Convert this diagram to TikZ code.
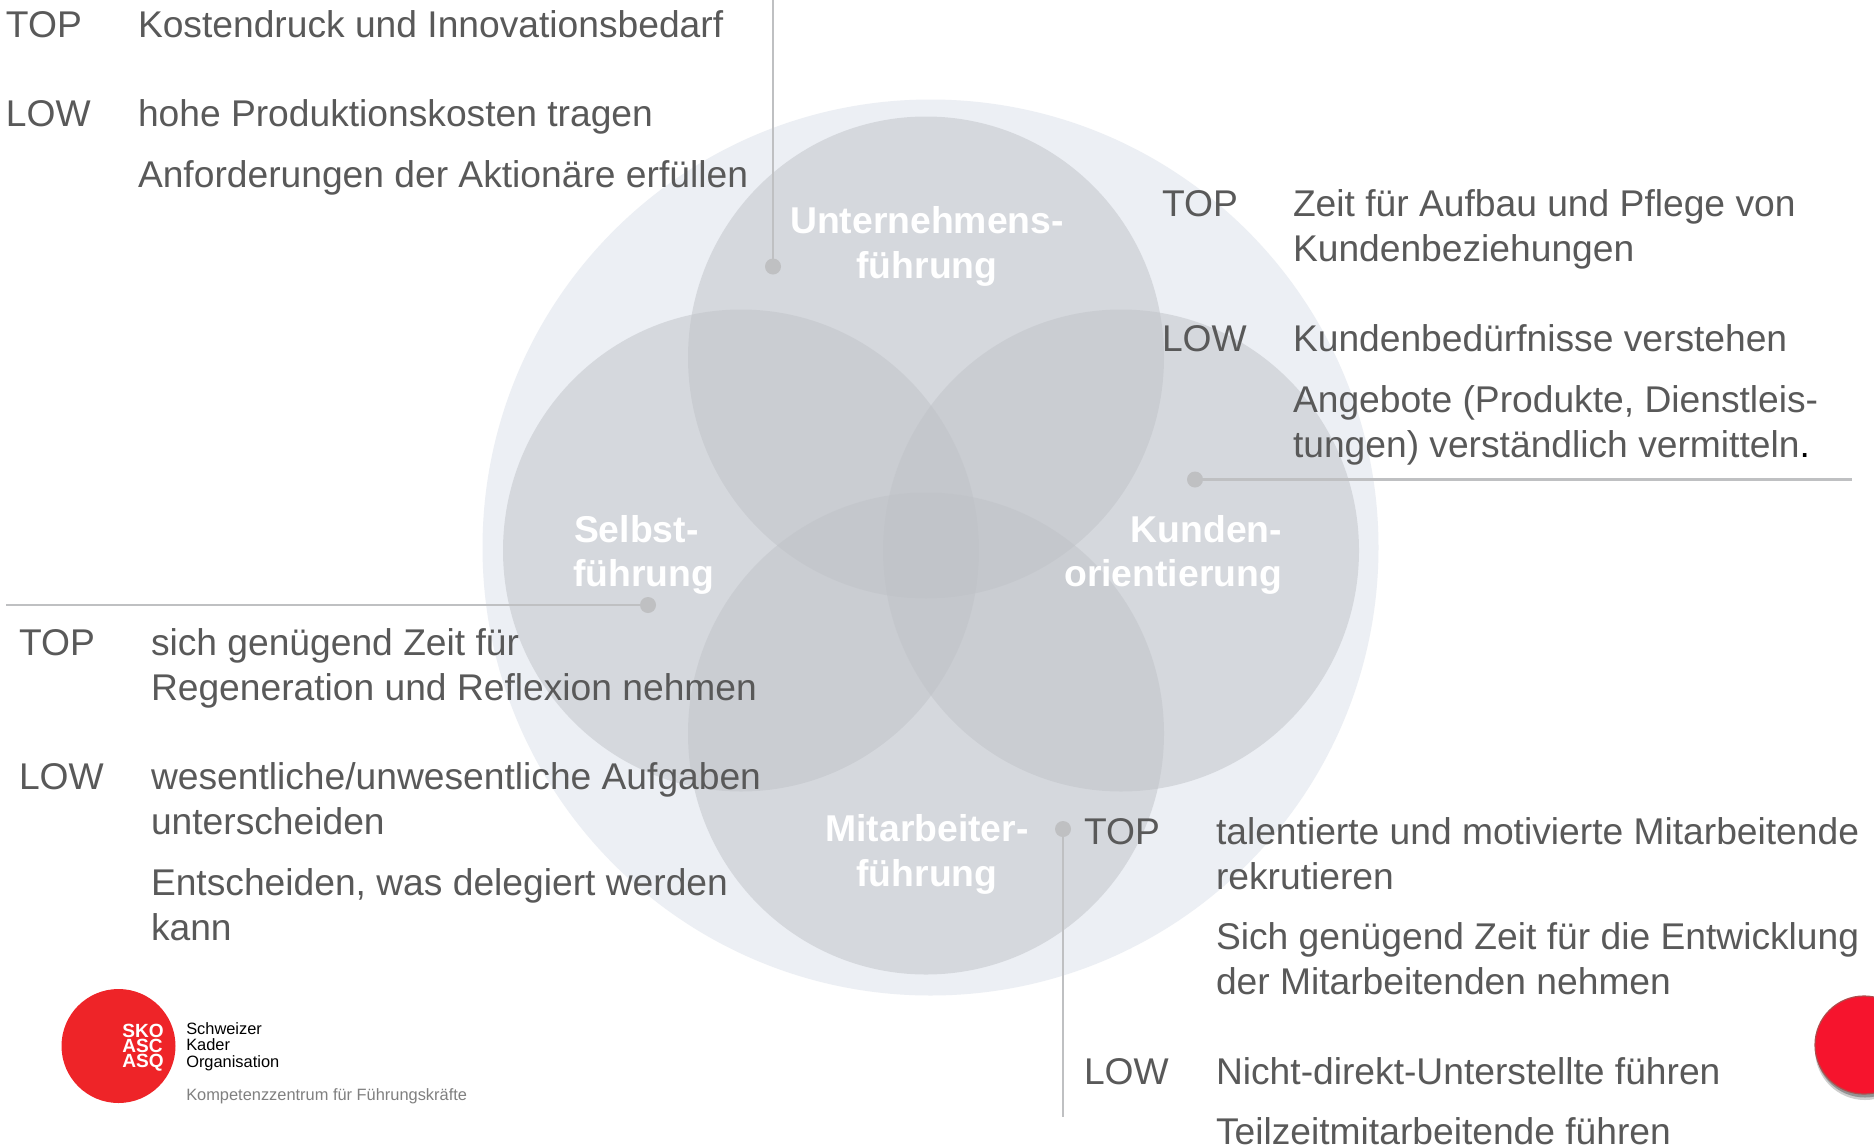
\documentclass[tikz,border=0pt]{standalone}
\usepackage{fontspec}
\setmainfont{Liberation Sans}
\definecolor{txt}{HTML}{595959}
\definecolor{lead}{HTML}{BFC0C2}
\definecolor{halo}{HTML}{ECEFF4}
\definecolor{venn}{HTML}{C0C3C8}
\definecolor{logored}{HTML}{EE2428}
\definecolor{dotred}{HTML}{F6142D}
\tikzset{
  x=0.75pt,y=-0.75pt,
  bodytxt/.style={anchor=base west,inner sep=0pt,outer sep=0pt,text=txt,font=\fontsize{27.9pt}{32pt}\selectfont},
  whitelabel/.style={anchor=base,inner sep=0pt,outer sep=0pt,text=white,font=\fontsize{28pt}{32pt}\selectfont\bfseries},
  vennc/.style={ellipse,minimum width=476*0.75pt,minimum height=482*0.75pt,inner sep=0pt,fill=venn,fill opacity=0.5},
  leaddot/.style={circle,minimum size=16*0.75pt,inner sep=0pt,fill=lead},
  leadline/.style={draw=lead,line width=2.2pt},
  logotxt/.style={anchor=base west,inner sep=0pt,text=black,font=\fontsize{12.3pt}{13pt}\selectfont},
  logomark/.style={anchor=base east,inner sep=0pt,text=white,font=\fontsize{14.3pt}{14pt}\selectfont\bfseries},
}
\usetikzlibrary{shapes.geometric}
\begin{document}
\begin{tikzpicture}
\useasboundingbox (0,0) rectangle (1874,1146);
\fill[white] (0,0) rectangle (1874,1146);
\node[circle,minimum size=896*0.75pt,inner sep=0pt,fill=halo] (halo) at (930.5,547.5) {};
\node[vennc] (ctop) at (926,357.5) {};
\node[vennc] (cleft) at (741,550.5) {};
\node[vennc] (cright) at (1121,550.5) {};
\node[vennc] (cbottom) at (926,733.5) {};

\node[leaddot] (d1) at (773,266.5) {};
\node[leaddot] (d2) at (1195,479.5) {};
\node[leaddot] (d3) at (648,605) {};
\node[leaddot] (d4) at (1063,829) {};
\coordinate (e1) at (773,0);
\coordinate (e2) at (1852,479.5);
\coordinate (e3) at (6,605);
\coordinate (e4) at (1063,1117);
\draw[leadline] (d1.center) -- (e1);
\draw[leadline] (d2.center) -- (e2);
\draw[leadline] (d3.center) -- (e3);
\draw[leadline] (d4.center) -- (e4);

\node[whitelabel] (w1a) at (927,233) {Unternehmens-};
\node[whitelabel] (w1b) at (927,278) {führung};
\node[whitelabel,anchor=base west] (w2a) at (574,542) {Selbst-};
\node[whitelabel,anchor=base west] (w2b) at (573,586.5) {führung};
\node[whitelabel,anchor=base east] (w3a) at (1282,542) {Kunden-};
\node[whitelabel,anchor=base east] (w3b) at (1282,586.5) {orientierung};
\node[whitelabel] (w4a) at (927,841) {Mitarbeiter-};
\node[whitelabel] (w4b) at (927,886) {führung};

\node[bodytxt] (a1) at (6,37) {TOP};
\node[bodytxt] (a2) at (138,37) {Kostendruck und Innovationsbedarf};
\node[bodytxt] (a3) at (6,126) {LOW};
\node[bodytxt] (a4) at (138,126) {hohe Produktionskosten tragen};
\node[bodytxt] (a5) at (138,187) {Anforderungen der Aktionäre erfüllen};

\node[bodytxt] (b1) at (1162,216) {TOP};
\node[bodytxt] (b2) at (1293,216) {Zeit für Aufbau und Pflege von};
\node[bodytxt] (b3) at (1293,261) {Kundenbeziehungen};
\node[bodytxt] (b4) at (1162,351) {LOW};
\node[bodytxt] (b5) at (1293,351) {Kundenbedürfnisse verstehen};
\node[bodytxt] (b6) at (1293,412) {Angebote (Produkte, Dienstleis-};
\node[bodytxt] (b7) at (1293,457) {tungen) verständlich vermitteln\textcolor{black}{.}};

\node[bodytxt] (c1) at (19,655) {TOP};
\node[bodytxt] (c2) at (151,655) {sich genügend Zeit für};
\node[bodytxt] (c3) at (151,700) {Regeneration und Reflexion nehmen};
\node[bodytxt] (c4) at (19,789) {LOW};
\node[bodytxt] (c5) at (151,789) {wesentliche/unwesentliche Aufgaben};
\node[bodytxt] (c6) at (151,834) {unterscheiden};
\node[bodytxt] (c7) at (151,895) {Entscheiden, was delegiert werden};
\node[bodytxt] (c8) at (151,940) {kann};

\node[bodytxt] (f1) at (1084,844) {TOP};
\node[bodytxt] (f2) at (1216,844) {talentierte und motivierte Mitarbeitende};
\node[bodytxt] (f3) at (1216,889) {rekrutieren};
\node[bodytxt] (f4) at (1216,949) {Sich genügend Zeit für die Entwicklung};
\node[bodytxt] (f5) at (1216,994) {der Mitarbeitenden nehmen};
\node[bodytxt] (f6) at (1084,1084) {LOW};
\node[bodytxt] (f7) at (1216,1084) {Nicht-direkt-Unterstellte führen};
\node[bodytxt] (f8) at (1216,1144) {Teilzeitmitarbeitende führen};

% logo
\node[circle,minimum size=114*0.75pt,inner sep=0pt,fill=logored] (logo) at (118.5,1046) {};
\node[logomark] (m1) at (164,1037) {SKO};
\node[logomark] (m2) at (163,1052) {ASC};
\node[logomark] (m3) at (164,1067) {ASQ};
\node[logotxt] (l1) at (186,1034.5) {Schweizer};
\node[logotxt] (l2) at (186,1050.5) {Kader};
\node[logotxt] (l3) at (186,1067.5) {Organisation};
\node[logotxt,text=gray] (l4) at (186,1100) {Kompetenzzentrum für Führungskräfte};

% red dot
\fill[black!55,opacity=.35] (1865,1050) circle[radius=50];
\fill[black!70,opacity=.45] (1865,1048) circle[radius=49.5];
\node[circle,minimum size=98*0.75pt,inner sep=0pt,fill=dotred,draw=red!55!black!70,line width=0.9pt] (reddot) at (1864,1045) {};
\end{tikzpicture}
\end{document}
